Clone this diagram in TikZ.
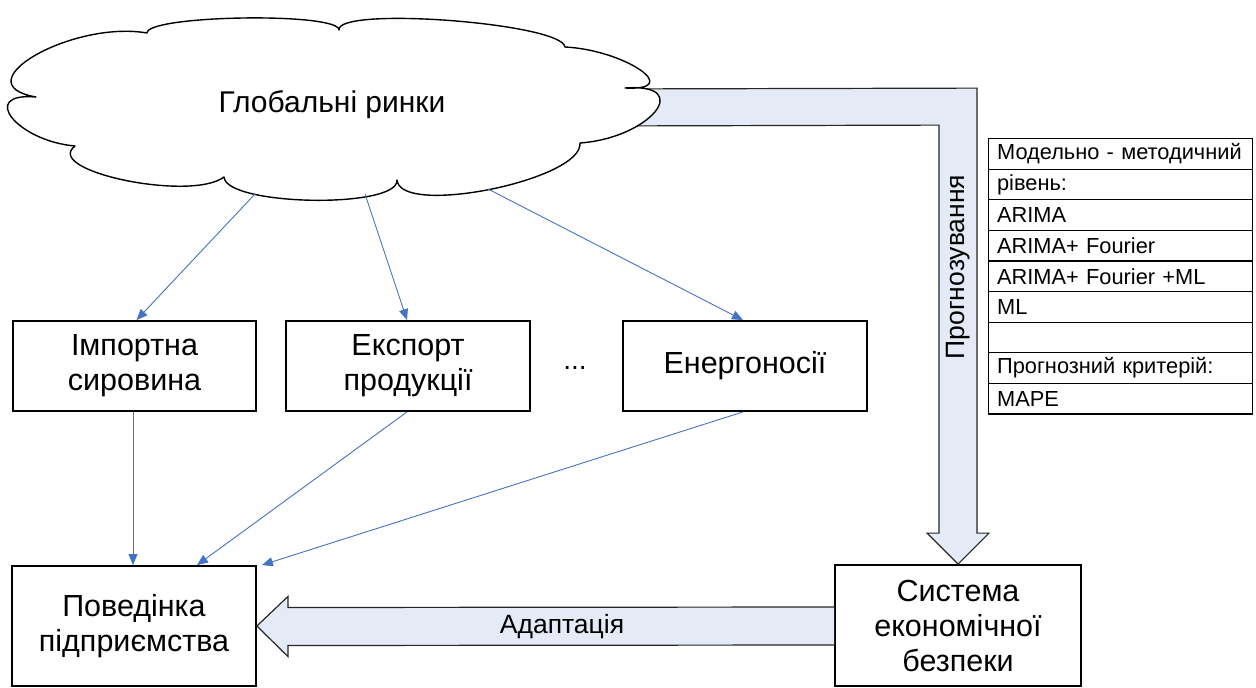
\documentclass[tikz,border=0pt]{standalone}
\usepackage{fontspec}
\setmainfont{Liberation Sans}
\usetikzlibrary{arrows.meta,calc}
\definecolor{bandfill}{RGB}{228,234,246}
\definecolor{linkblue}{RGB}{68,114,196}

\begin{document}
\begin{tikzpicture}[x=1pt,y=-1pt,
  box/.style={draw=black,line width=1.8pt,fill=white,align=center,inner sep=0pt,
              font=\fontsize{30.5}{35}\selectfont},
  link/.style={draw=linkblue,line width=0.9pt,-{Triangle[length=11pt,width=9pt]}},
  band/.style={fill=bandfill,draw=black!85,line width=1.2pt,line join=miter},
  cell/.style={draw=black,line width=1.2pt,anchor=north west,inner xsep=5pt,inner ysep=0pt,
               text width=254pt,minimum height=30.6pt,align=left,
               execute at begin node={\hspace*{3.5pt}},
               font=\fontsize{21.8}{24}\selectfont},
  label/.style={font=\fontsize{26.5}{30}\selectfont,inner sep=0pt}]

\useasboundingbox (0,0) rectangle (1256,688);

% boxes
\node[box,minimum width=243pt,minimum height=90pt]  (imp)  at (134.5,366) {Імпортна\\сировина};
\node[box,minimum width=244pt,minimum height=90pt]  (exp)  at (408,366) {Експорт\\продукції};
\node[box,minimum width=244pt,minimum height=90pt]  (ener) at (745,366) {Енергоносії};
\node[font=\fontsize{28}{34}\selectfont] (dots) at (575,368) {...};
\node[box,minimum width=244pt,minimum height=120pt] (beh)  at (134,626) {Поведінка\\підприємства};
\node[box,minimum width=246pt,minimum height=121pt] (sys)  at (958,625.5) {Система\\економічної\\безпеки};

% bent block arrow from the markets down to the security system
\path[band] (600,89) -- ($(sys.north)+(19,-476)$) -- ($(sys.north)+(19,-31)$)
  -- ($(sys.north)+(31,-31)$) -- (sys.north) -- ($(sys.north)+(-31,-31)$)
  -- ($(sys.north)+(-19,-31)$) -- ($(sys.north)+(-19,-439)$) -- (600,126) -- cycle;
\node[label,rotate=90] (forecast) at (958,267) {Прогнозування};

% block arrow back to the enterprise
\path[band] ($(sys.west)+(0,-18.5)$) -- ($(beh.east)+(31,-18.5)$) -- ($(beh.east)+(31,-29.5)$)
  -- (beh.east) -- ($(beh.east)+(31,30.5)$) -- ($(beh.east)+(31,19.5)$) -- ($(sys.west)+(0,19.5)$);
\node[label] (adapt) at (562,627) {Адаптація};

% cloud
\draw[line width=1.4pt,fill=white,line join=round]
  (147,33) .. controls (147,15) and (339,12) .. (339,30)
  .. controls (336,6) and (562,23) .. (565,47)
  .. controls (625,50) and (685,91) .. (625,88)
  .. controls (695,83) and (650,138) .. (580,143)
  .. controls (583,180) and (400,217) .. (397,180)
  .. controls (399,209) and (226,206) .. (224,177)
  .. controls (191,202) and (42,171) .. (75,146)
  .. controls (17,141) and (-22,92) .. (36,97)
  .. controls (-39,84) and (72,20) .. (147,33) -- cycle;
\node[font=\fontsize{30}{36}\selectfont] (glob) at (332,105) {Глобальні ринки};
\coordinate (g1) at (255,194);
\coordinate (g2) at (365,194);
\coordinate (g3) at (488,189);

% links
\draw[link] (g1) -- ([xshift=2pt]imp.north);
\draw[link] (g2) -- ([xshift=-1pt]exp.north);
\draw[link] (g3) -- ([xshift=-2pt]ener.north);
\draw[link] ([xshift=-1.5pt]imp.south) -- ([xshift=-1pt]beh.north);
\draw[link] ([xshift=-1pt]exp.south) -- ([xshift=63pt]beh.north);
\draw[link] ([xshift=-2pt]ener.south) -- ([xshift=5pt]beh.north east);

% method table
\node[cell] (t1) at (988,138.0) {Модельно - методичний};
\node[cell] (t2) at (988,168.6) {рівень:};
\node[cell] (t3) at (988,199.2) {ARIMA};
\node[cell] (t4) at (988,229.8) {ARIMA+ Fourier};
\node[cell] (t5) at (988,260.4) {ARIMA+ Fourier +ML};
\node[cell] (t6) at (988,291.0) {ML};
\node[cell] (t7) at (988,321.6) {};
\node[cell] (t8) at (988,352.2) {Прогнозний критерій:};
\node[cell] (t9) at (988,382.8) {MAPE};
\end{tikzpicture}
\end{document}
